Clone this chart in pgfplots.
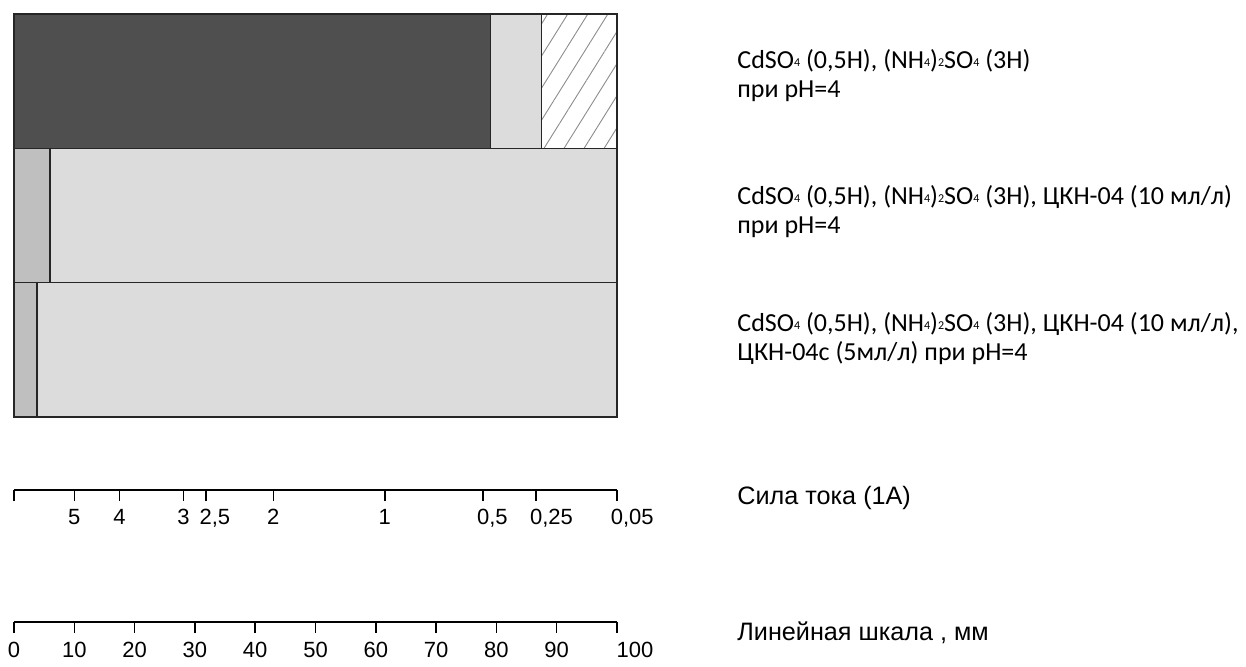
\documentclass[border=0pt]{standalone}
\usepackage{fontspec}
\setmainfont{Liberation Sans}
\newfontfamily\calib{Carlito}
\usepackage{pgfplots}
\pgfplotsset{compat=1.18}
\usetikzlibrary{patterns.meta}

\definecolor{darkbar}{HTML}{4F4F4F}
\definecolor{midbar}{HTML}{BFBFBF}
\definecolor{lightbar}{HTML}{DCDCDC}
\newcommand\sub[1]{\raisebox{0.15ex}{\fontsize{6}{6}\selectfont #1}}

\begin{document}
\begin{tikzpicture}[x=1pt,y=1pt]
\useasboundingbox (0,0) rectangle (623,333);
% --- bars ---
\begin{axis}[
  at={(7pt,124.5pt)}, anchor=south west, scale only axis,
  width=301.5pt, height=201.5pt,
  xbar stacked, bar width=1,
  xmin=0, xmax=100, ymin=0.5, ymax=3.5,
  hide axis, clip=false,
]
\addplot[fill=darkbar, draw=black!85, line width=0.8pt] coordinates {(79,3) (0,2) (0,1)};
\addplot[fill=midbar, draw=black!85, line width=0.8pt] coordinates {(0,3) (6,2) (3.8,1)};
\addplot[fill=lightbar, draw=black!85, line width=0.8pt] coordinates {(8.5,3) (94,2) (96.2,1)};
\addplot[pattern={Lines[angle=58,distance=8.5pt,line width=0.45pt]}, pattern color=gray!90, draw=black!85, line width=0.8pt] coordinates {(12.5,3) (0,2) (0,1)};
\end{axis}
% --- current scale ---
\begin{axis}[
  at={(7pt,88pt)}, anchor=south west, scale only axis,
  width=301.5pt, height=10pt,
  xmin=0, xmax=100, ymin=0, ymax=1,
  axis x line*=bottom, hide y axis,
  axis line style={-, line width=0.75pt},
  xtick={0,10.0,17.5,28.1,31.8,43.0,61.5,77.8,86.6,100},
  xticklabels={,5,4,3,{2\rlap{,5}},2,1,{0\rlap{,5}},{0\rlap{,25}},{0\rlap{,05}}},
  tick align=outside, major tick length=5.5pt,
  tick style={line width=0.75pt, black},
  xticklabel style={font=\fontsize{11}{13}\selectfont, yshift=-0.5pt},
]
\addplot[draw=none] coordinates {(0,0) (100,0)};
\end{axis}
% --- linear scale ---
\begin{axis}[
  at={(7pt,22pt)}, anchor=south west, scale only axis,
  width=301.5pt, height=10pt,
  xmin=0, xmax=100, ymin=0, ymax=1,
  axis x line*=bottom, hide y axis,
  axis line style={-, line width=0.75pt},
  xtick={0,10,20,30,40,50,60,70,80,90,100},
  xticklabels={0,10,20,30,40,50,60,70,80,90,{\hspace{18pt}100}},
  tick align=outside, major tick length=5.5pt,
  tick style={line width=0.75pt, black},
  xticklabel style={font=\fontsize{11}{13}\selectfont, yshift=-1pt},
]
\addplot[draw=none] coordinates {(0,0) (100,0)};
\end{axis}
% --- labels ---
\begin{scope}[every node/.style={anchor=base west, inner sep=0pt, font=\calib\fontsize{13}{15}\selectfont}]
\node at (368.5,299) {CdSO\sub{4} (0,5Н), (NH\sub{4})\sub{2}SO\sub{4} (3Н)};
\node at (368.5,284.5) {при pH=4};
\node at (368.5,231) {CdSO\sub{4} (0,5Н), (NH\sub{4})\sub{2}SO\sub{4} (3Н), ЦКН-04 (10 мл/л)};
\node at (368.5,216.5) {при pH=4};
\node at (368.5,167.5) {CdSO\sub{4} (0,5Н), (NH\sub{4})\sub{2}SO\sub{4} (3Н), ЦКН-04 (10 мл/л),};
\node at (368.5,153) {ЦКН-04с (5мл/л) при pH=4};
\end{scope}
\node[anchor=base west, inner sep=0pt, font=\fontsize{12.6}{15}\selectfont] at (368.5,81) {Сила тока (1А)};
\node[anchor=base west, inner sep=0pt, font=\fontsize{12.6}{15}\selectfont] at (368.5,13) {Линейная шкала , мм};
\end{tikzpicture}
\end{document}
